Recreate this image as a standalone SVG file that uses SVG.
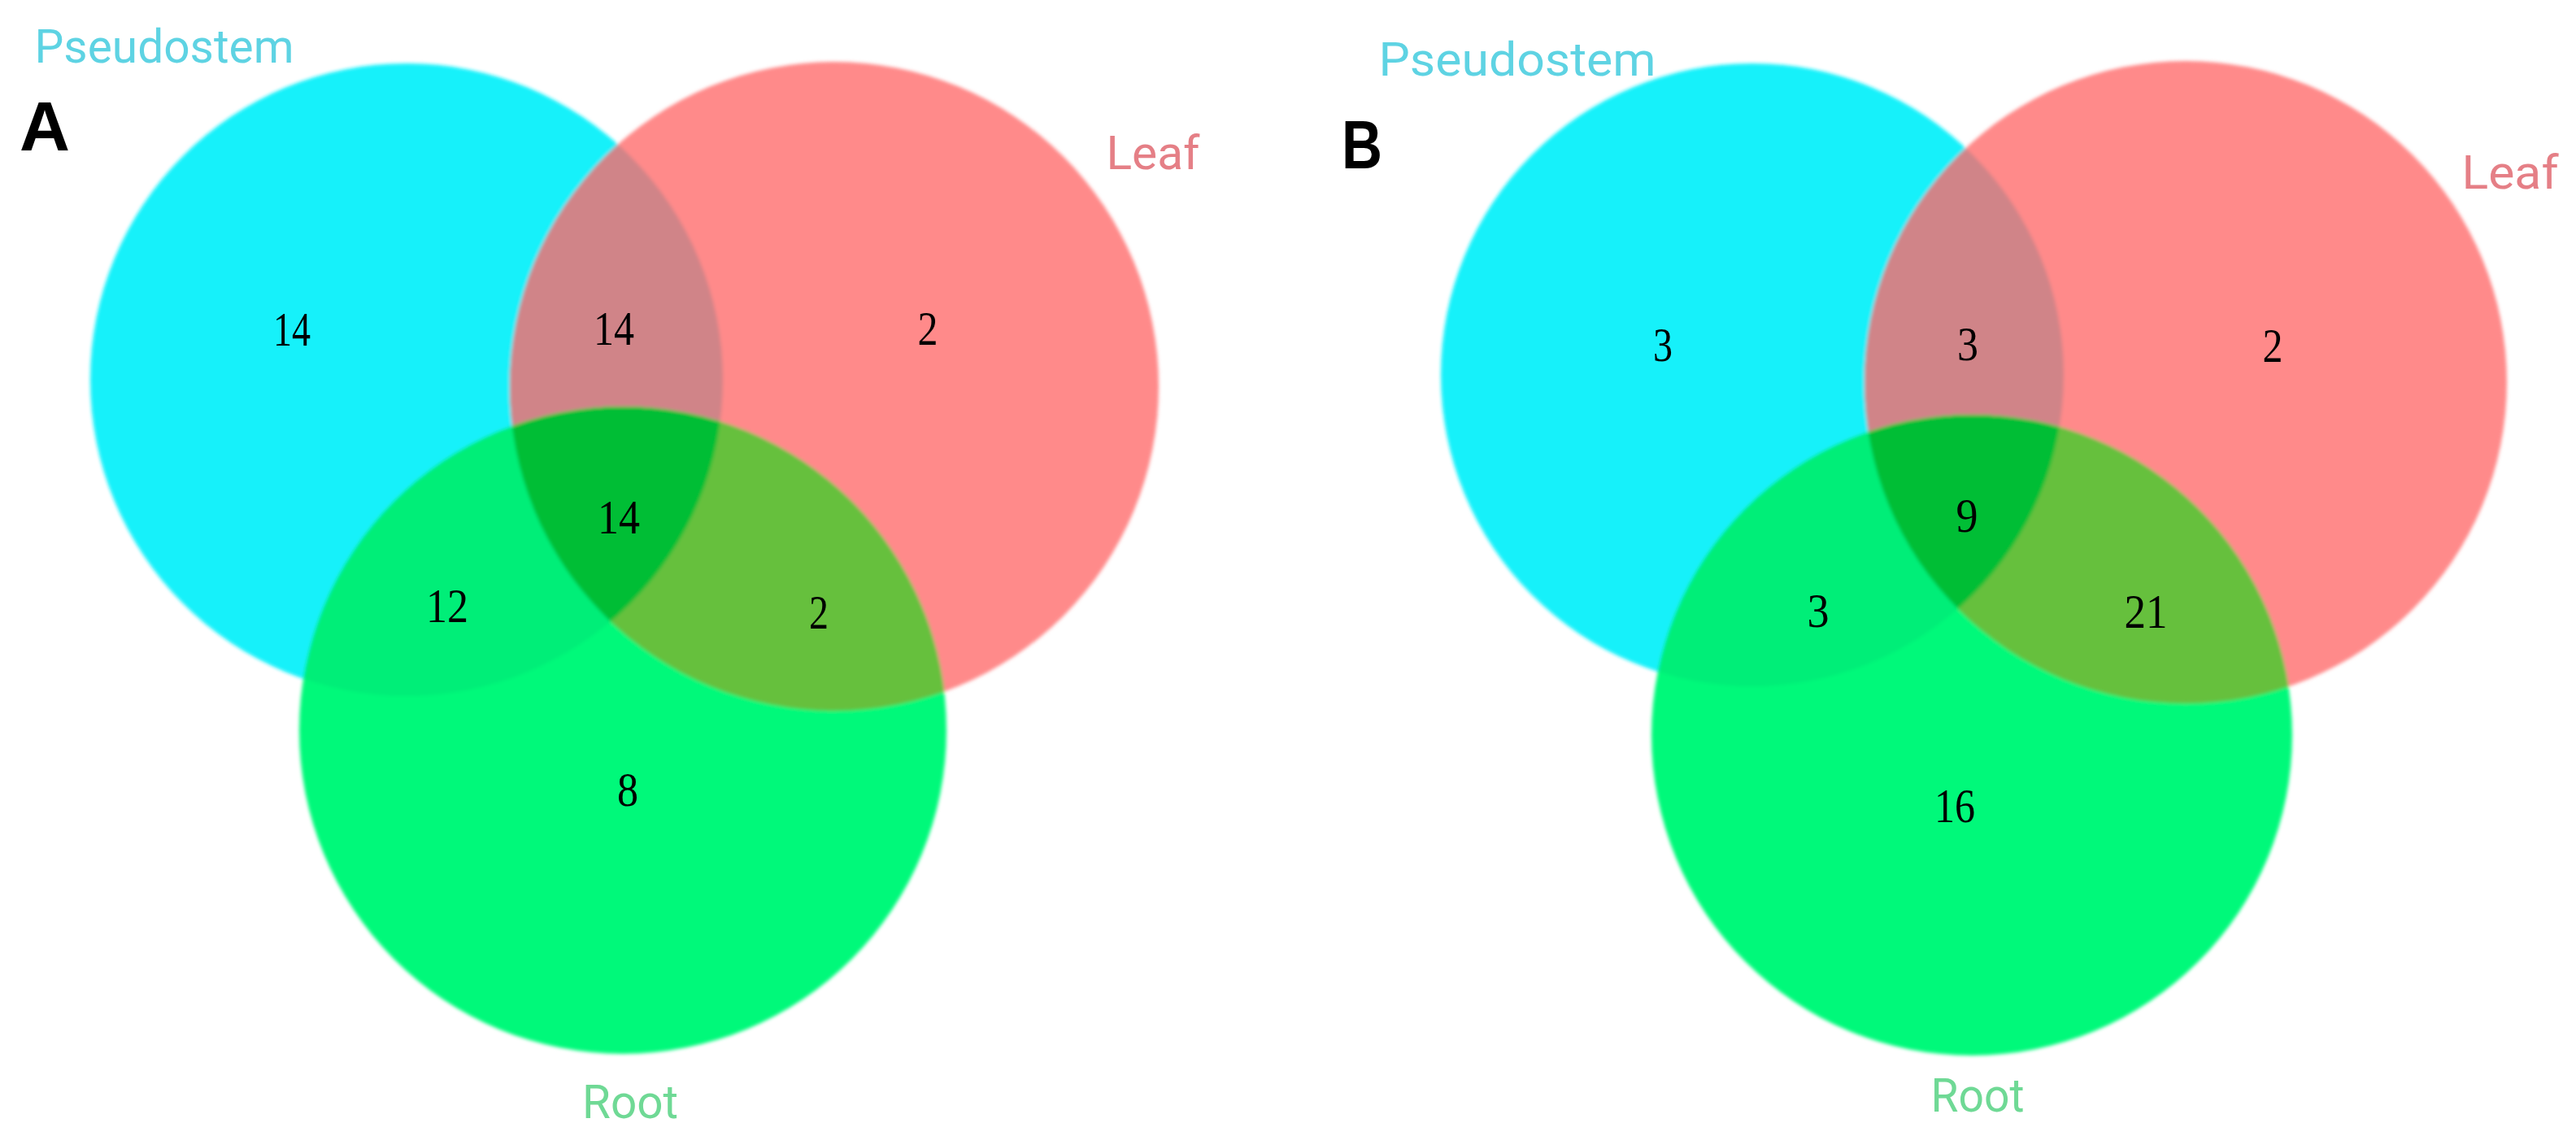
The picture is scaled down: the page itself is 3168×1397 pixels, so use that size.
<svg xmlns="http://www.w3.org/2000/svg" width="3168" height="1397" viewBox="0 0 3168 1397">
<style>
.num{font-family:"Liberation Serif","Times New Roman",serif;font-size:60px;fill:#000;text-anchor:middle}
.lab{font-family:Roboto,"Liberation Sans",sans-serif;font-size:58px;text-anchor:middle}
.pan{font-family:"Liberation Sans",Arial,sans-serif;font-weight:bold;font-size:86px;fill:#000}
.cy{fill:#12F1FA}.rd{fill:#FF8A8A}.gr{fill:#00F97A}
.cr{fill:#D08488}.cg{fill:#00EE78}.rg{fill:#66C03C}.tr{fill:#00BE36}
</style>
<defs>
<filter id="soft" x="-5%" y="-5%" width="110%" height="110%"><feGaussianBlur stdDeviation="2"/></filter>
<clipPath id="aC"><circle cx="500" cy="467" r="389"/></clipPath>
<clipPath id="aR"><circle cx="1026" cy="475" r="399"/></clipPath>
<clipPath id="bC"><circle cx="2155" cy="461" r="383"/></clipPath>
<clipPath id="bR"><circle cx="2688" cy="470" r="395"/></clipPath>
</defs>
<rect width="3168" height="1397" fill="#fff"/>

<g id="venn-A">
<g filter="url(#soft)">
<circle id="A-pseudostem" class="cy" cx="500" cy="467" r="389"/>
<circle id="A-leaf" class="rd" cx="1026" cy="475" r="399"/>
<circle class="cr" cx="1026" cy="475" r="399" clip-path="url(#aC)"/>
<circle id="A-root" class="gr" cx="766" cy="898" r="398"/>
<circle class="cg" cx="766" cy="898" r="398" clip-path="url(#aC)"/>
<circle class="rg" cx="766" cy="898" r="398" clip-path="url(#aR)"/>
<g clip-path="url(#aC)"><circle class="tr" cx="766" cy="898" r="398" clip-path="url(#aR)"/></g>
</g>
<text class="pan" x="24" y="185" textLength="62" lengthAdjust="spacingAndGlyphs">A</text>
<text class="lab" x="202" y="77" fill="#5ED3E3" textLength="319" lengthAdjust="spacingAndGlyphs">Pseudostem</text>
<text class="lab" x="1418" y="208" fill="#E57F86" textLength="115" lengthAdjust="spacingAndGlyphs">Leaf</text>
<text class="lab" x="775" y="1375" fill="#6FD995" textLength="118" lengthAdjust="spacingAndGlyphs">Root</text>
<text class="num" x="359" y="425" textLength="46" lengthAdjust="spacingAndGlyphs">14</text>
<text class="num" x="755" y="424" textLength="50" lengthAdjust="spacingAndGlyphs">14</text>
<text class="num" x="1141" y="424" textLength="25" lengthAdjust="spacingAndGlyphs">2</text>
<text class="num" x="761" y="656" textLength="52" lengthAdjust="spacingAndGlyphs">14</text>
<text class="num" x="550" y="765" textLength="52" lengthAdjust="spacingAndGlyphs">12</text>
<text class="num" x="1007" y="773" textLength="24" lengthAdjust="spacingAndGlyphs">2</text>
<text class="num" x="772" y="991" textLength="26" lengthAdjust="spacingAndGlyphs">8</text>
</g>

<g id="venn-B">
<g filter="url(#soft)">
<circle id="B-pseudostem" class="cy" cx="2155" cy="461" r="383"/>
<circle id="B-leaf" class="rd" cx="2688" cy="470" r="395"/>
<circle class="cr" cx="2688" cy="470" r="395" clip-path="url(#bC)"/>
<circle id="B-root" class="gr" cx="2425" cy="904" r="394"/>
<circle class="cg" cx="2425" cy="904" r="394" clip-path="url(#bC)"/>
<circle class="rg" cx="2425" cy="904" r="394" clip-path="url(#bR)"/>
<g clip-path="url(#bC)"><circle class="tr" cx="2425" cy="904" r="394" clip-path="url(#bR)"/></g>
</g>
<text class="pan" x="1650" y="207" textLength="50" lengthAdjust="spacingAndGlyphs" style="font-size:84px">B</text>
<text class="lab" x="1866" y="93" fill="#5ED3E3" textLength="341" lengthAdjust="spacingAndGlyphs">Pseudostem</text>
<text class="lab" x="3087" y="232" fill="#E57F86" textLength="119" lengthAdjust="spacingAndGlyphs">Leaf</text>
<text class="lab" x="2432" y="1367" fill="#6FD995" textLength="115" lengthAdjust="spacingAndGlyphs">Root</text>
<text class="num" x="2045" y="444" textLength="24" lengthAdjust="spacingAndGlyphs">3</text>
<text class="num" x="2420" y="443" textLength="26" lengthAdjust="spacingAndGlyphs">3</text>
<text class="num" x="2795" y="445" textLength="25" lengthAdjust="spacingAndGlyphs">2</text>
<text class="num" x="2419" y="654" textLength="27" lengthAdjust="spacingAndGlyphs">9</text>
<text class="num" x="2236" y="771" textLength="27" lengthAdjust="spacingAndGlyphs">3</text>
<text class="num" x="2639" y="772" textLength="53" lengthAdjust="spacingAndGlyphs">21</text>
<text class="num" x="2404" y="1011" textLength="50" lengthAdjust="spacingAndGlyphs">16</text>
</g>
</svg>
